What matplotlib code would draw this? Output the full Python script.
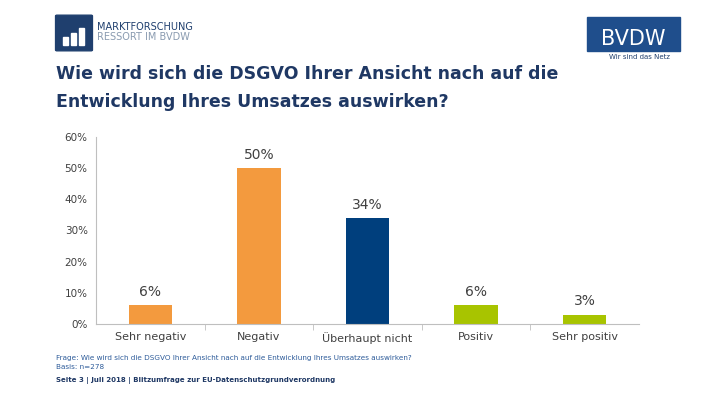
import matplotlib.pyplot as plt
from matplotlib.patches import FancyBboxPatch, Rectangle

categories = ["Sehr negativ", "Negativ", "Überhaupt nicht", "Positiv", "Sehr positiv"]
values = [6, 50, 34, 6, 3]
colors = ["#F39A3E", "#F39A3E", "#003F7D", "#A8C400", "#A8C400"]
yticks = [0, 10, 20, 30, 40, 50, 60]

navy = "#1F3864"
fig = plt.figure(figsize=(7.2, 4.05), dpi=100)

# header logos
fig.add_artist(FancyBboxPatch((57/720, 1-50/405), 34/720, 34/405, boxstyle="round,pad=0.002",
                              transform=fig.transFigure, color="#1F3F6E"))
for i, h in enumerate([8, 12, 17]):
    fig.add_artist(Rectangle(((63 + i * 8)/720, 1-45/405), 5/720, h/405,
                             transform=fig.transFigure, color="white"))
fig.text(97/720, 1-27/405, "MARKTFORSCHUNG", fontsize=7, color="#1F3F6E", va="center")
fig.text(97/720, 1-37/405, "RESSORT IM BVDW", fontsize=7, color="#8A9BB0", va="center")
fig.add_artist(Rectangle((587/720, 1-51/405), 93/720, 34/405, transform=fig.transFigure, color="#1F4E8C"))
fig.text(633/720, 1-39/405, "BVDW", fontsize=15, color="white", ha="center", va="center")
fig.text(609/720, 1-57/405, "Wir sind das Netz", fontsize=5, color="#1F3F6E", va="center")

fig.text(56/720, 1-88/405, "Wie wird sich die DSGVO Ihrer Ansicht nach auf die\nEntwicklung Ihres Umsatzes auswirken?",
         fontsize=12.5, fontweight="bold", color=navy, va="center", linespacing=1.75)

ax = fig.add_axes([96/720, 81/405, 543/720, 187/405])
x = range(len(categories))
bars = ax.bar(x, values, width=0.4, color=colors)
for xi, v in zip(x, values):
    ax.text(xi, v + 2, f"{v}%", ha="center", va="bottom", fontsize=10, color="#404040")
ax.set_xlim(-0.5, 4.5)
ax.set_ylim(0, 60)
ax.set_yticks(yticks)
ax.set_yticklabels([f"{t}%" for t in yticks], fontsize=7.5, color="#404040")
ax.set_xticks(list(x))
ax.set_xticklabels(categories, fontsize=8, color="#404040")
ax.set_xticks([0.5, 1.5, 2.5, 3.5], minor=True)
ax.tick_params(axis="x", which="major", length=0, pad=6)
ax.tick_params(axis="x", which="minor", length=4, color="#BFBFBF")
ax.tick_params(axis="y", length=0, pad=6)
for s in ["top", "right"]:
    ax.spines[s].set_visible(False)
ax.spines["left"].set_color("#BFBFBF")
ax.spines["bottom"].set_color("#BFBFBF")

fig.text(56/720, 1-358/405, "Frage: Wie wird sich die DSGVO Ihrer Ansicht nach auf die Entwicklung Ihres Umsatzes auswirken?",
         fontsize=5.2, color="#2E5C9A", va="center")
fig.text(56/720, 1-367/405, "Basis: n=278", fontsize=5.2, color="#2E5C9A", va="center")
fig.text(56/720, 1-381/405, "Seite 3 | Juli 2018 | Blitzumfrage zur EU-Datenschutzgrundverordnung",
         fontsize=5.0, color=navy, fontweight="bold", va="center")

fig.savefig("out.png", dpi=100)
